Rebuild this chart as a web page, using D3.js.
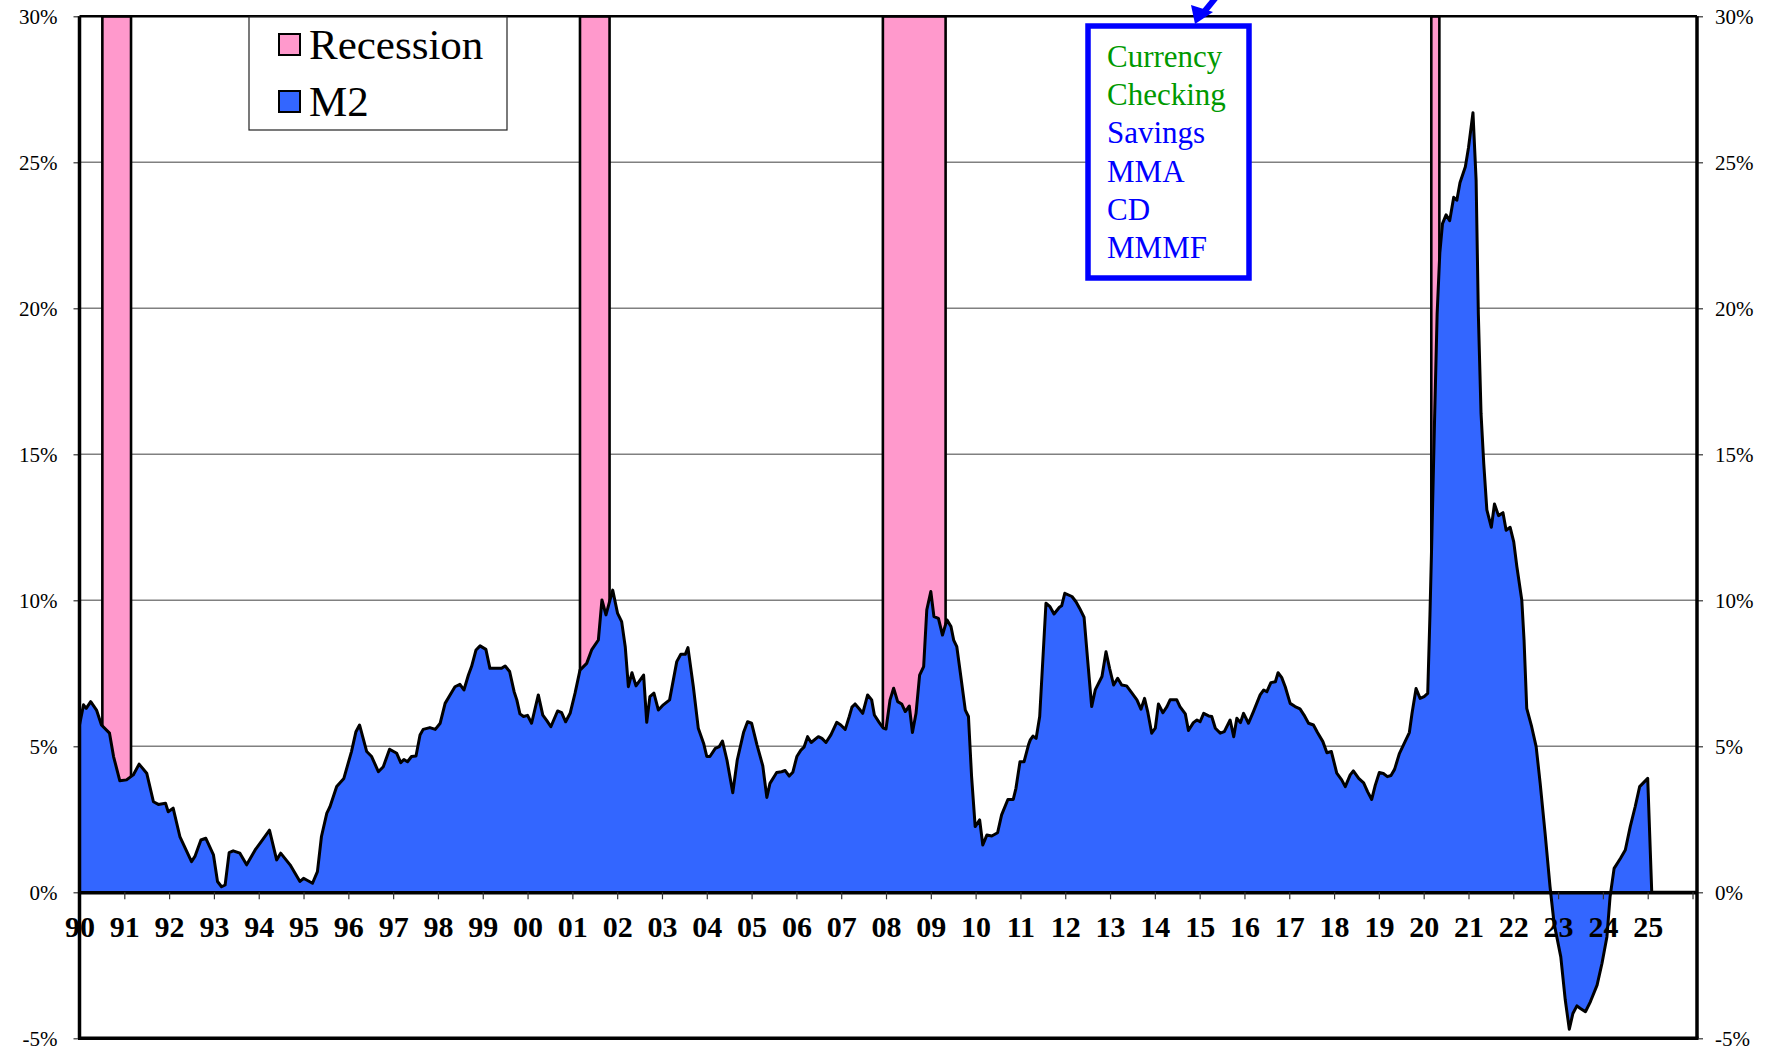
<!DOCTYPE html>
<html>
<head>
<meta charset="utf-8">
<script src="https://cdn.jsdelivr.net/npm/d3@7"></script>
<style>
  body { margin: 0; background: #fff; }
  #chart svg { display: block; }
  text { font-family: "Liberation Serif", "Times New Roman", serif; }
</style>
</head>
<body>
<div id="chart"></div>
<script>
// data (pertumbuhan M2 yoy, %)
const years = [
  1990.00,1990.09,1990.15,1990.25,1990.38,1990.49,1990.67,1990.76,1990.90,1991.05,
  1991.20,1991.33,1991.50,1991.65,1991.76,1991.92,1991.98,1992.09,1992.24,1992.50,
  1992.58,1992.71,1992.82,1992.99,1993.08,1993.17,1993.25,1993.34,1993.43,1993.58,
  1993.73,1993.92,1994.08,1994.24,1994.40,1994.49,1994.70,1994.92,1995.00,1995.20,
  1995.31,1995.40,1995.52,1995.59,1995.74,1995.90,1996.07,1996.17,1996.25,1996.41,
  1996.52,1996.67,1996.78,1996.92,
  1997.08,1997.17,1997.24,1997.32,1997.41,1997.51,1997.60,1997.67,1997.82,1997.94,
  1998.05,1998.16,1998.27,1998.38,1998.49,1998.58,1998.68,1998.75,1998.85,1998.94,
  1999.07,1999.16,1999.31,1999.42,1999.50,1999.60,1999.70,1999.76,1999.83,1999.91,
  2000.00,2000.09,2000.24,2000.34,2000.43,2000.52,2000.67,2000.76,2000.85,2000.95,
  2001.06,2001.17,2001.32,2001.43,2001.58,2001.66,2001.75,2001.90,2002.01,2002.10,
  2002.18,2002.25,2002.33,2002.42,2002.59,2002.66,2002.73,2002.82,2002.92,2003.03,
  2003.17,2003.33,2003.42,2003.52,2003.58,2003.70,2003.81,2003.93,2004.00,
  2004.07,2004.19,2004.28,2004.35,2004.45,2004.58,2004.68,2004.82,2004.91,2005.00,
  2005.12,2005.25,2005.34,2005.41,2005.56,2005.67,2005.75,2005.84,2005.92,2006.01,
  2006.10,2006.17,2006.25,2006.33,2006.49,2006.57,2006.66,2006.77,2006.90,2006.99,
  2007.09,2007.18,2007.24,2007.31,2007.41,2007.48,2007.59,2007.68,2007.74,2007.85,
  2007.94,2008.00,2008.09,2008.17,2008.26,2008.35,2008.43,2008.52,2008.59,2008.67,
  2008.75,2008.84,2008.91,2009.00,2009.07,2009.17,2009.26,2009.36,2009.45,2009.51,
  2009.58,2009.67,2009.77,2009.84,2009.91,2009.99,2010.09,2010.16,2010.25,2010.36,
  2010.49,2010.58,2010.72,2010.84,2010.90,2010.99,2011.08,2011.18,2011.22,
  2011.28,2011.35,2011.43,2011.57,2011.66,2011.75,2011.87,2011.92,2011.99,2012.15,
  2012.24,2012.32,2012.42,2012.50,2012.59,2012.67,2012.82,2012.91,2012.99,2013.08,
  2013.17,2013.26,2013.37,2013.49,2013.60,2013.69,2013.77,2013.84,2013.93,2014.01,
  2014.08,2014.18,2014.27,2014.34,2014.49,2014.56,2014.68,2014.75,2014.86,2014.94,
  2015.01,2015.09,2015.20,2015.27,2015.35,2015.46,2015.55,2015.68,2015.76,2015.83,
  2015.91,2015.98,2016.09,2016.20,2016.35,2016.43,2016.50,2016.59,2016.69,2016.75,
  2016.83,2016.91,2017.02,2017.13,2017.24,2017.33,2017.43,2017.54,2017.63,2017.75,
  2017.84,2017.94,2018.06,2018.17,2018.25,
  2018.36,2018.43,2018.55,2018.66,2018.75,2018.84,2018.92,2019.01,2019.10,2019.19,
  2019.27,2019.35,2019.46,2019.56,2019.68,2019.74,2019.83,2019.92,2020.01,2020.09,
  2020.14,2020.18,2020.24,2020.30,2020.36,2020.42,2020.50,2020.58,2020.67,2020.74,
  2020.81,2020.93,2021.00,2021.10,2021.17,2021.22,2021.28,2021.34,2021.41,2021.51,
  2021.58,2021.67,2021.77,2021.84,2021.93,2022.01,2022.08,2022.19,2022.24,2022.30,
  2022.41,2022.51,2022.60,2022.71,2022.82,2022.91,2023.06,2023.16,2023.25,2023.33,
  2023.42,2023.49,2023.61,2023.72,2023.87,2023.98,2024.09,2024.16,2024.25,2024.39,
  2024.50,2024.61,2024.72,2024.82,2025.00,2025.09,2026.10
];

const m2Growth = [
  5.73,6.42,6.30,6.53,6.24,5.73,5.45,4.65,3.82,3.85,
  4.02,4.39,4.08,3.10,3.01,3.05,2.76,2.88,1.91,1.05,
  1.24,1.79,1.85,1.28,0.37,0.19,0.25,1.36,1.42,1.34,
  0.94,1.45,1.79,2.13,1.11,1.34,0.94,0.37,0.48,0.31,
  0.71,1.91,2.71,2.93,3.62,3.90,4.82,5.50,5.73,4.82,
  4.65,4.13,4.30,4.90,
  4.76,4.44,4.55,4.47,4.65,4.67,5.39,5.58,5.64,5.58,
  5.79,6.47,6.76,7.04,7.12,6.93,7.44,7.73,8.30,8.44,
  8.32,7.67,7.67,7.67,7.75,7.56,6.87,6.59,6.11,6.02,
  6.06,5.79,6.76,6.07,5.88,5.67,6.21,6.15,5.84,6.13,
  6.82,7.61,7.84,8.30,8.64,10.01,9.50,10.35,9.55,9.27,
  8.41,7.04,7.52,7.07,7.44,5.82,6.70,6.82,6.24,6.42,
  6.59,7.90,8.15,8.15,8.38,7.04,5.62,5.10,4.65,
  4.65,4.93,4.99,5.18,4.53,3.41,4.53,5.47,5.84,5.79,
  5.05,4.33,3.25,3.73,4.10,4.13,4.17,3.98,4.11,4.65,
  4.87,4.97,5.33,5.13,5.33,5.27,5.13,5.39,5.82,5.73,
  5.58,6.02,6.34,6.45,6.27,6.13,6.76,6.59,6.07,5.81,
  5.62,5.59,6.59,6.99,6.53,6.45,6.19,6.38,5.47,6.13,
  7.44,7.73,9.67,10.30,9.44,9.38,8.81,9.33,9.10,8.64,
  8.41,7.39,6.24,6.02,3.96,2.25,2.48,1.62,1.96,1.93,
  2.04,2.65,3.18,3.18,3.56,4.47,4.47,5.05,5.22,
  5.35,5.27,6.02,9.90,9.78,9.53,9.76,9.81,10.24,10.13,
  9.95,9.73,9.42,7.96,6.36,6.93,7.39,8.24,7.67,7.10,
  7.33,7.10,7.07,6.82,6.59,6.27,6.64,6.19,5.45,5.62,
  6.45,6.15,6.36,6.59,6.59,6.36,6.11,5.54,5.81,5.90,
  5.84,6.13,6.04,6.02,5.62,5.45,5.50,5.90,5.33,5.96,
  5.81,6.13,5.79,6.19,6.76,6.93,6.87,7.18,7.21,7.52,
  7.36,7.04,6.47,6.36,6.28,6.07,5.79,5.73,5.47,5.16,
  4.78,4.82,4.08,3.85,3.62,
  4.02,4.16,3.90,3.75,3.44,3.18,3.67,4.10,4.07,3.96,
  4.00,4.21,4.76,5.08,5.47,6.13,6.98,6.64,6.70,6.81,
  9.50,12.0,16.0,19.8,21.9,22.9,23.2,23.0,23.8,23.7,
  24.3,24.85,25.5,26.7,24.4,19.8,16.4,14.7,13.1,12.5,
  13.3,12.9,13.0,12.4,12.5,12.0,11.15,10.0,8.64,6.30,
  5.67,4.99,3.73,2.02,0.19,-1.06,-2.21,-3.69,-4.69,-4.15,
  -3.89,-3.97,-4.09,-3.75,-3.18,-2.43,-1.52,-0.15,0.82,1.16,
  1.45,2.25,2.93,3.62,3.90,0,0
];

// periode resesi (tahun desimal)
const recessionStart = [1990.51, 2001.17, 2007.93, 2020.17];
const recessionEnd   = [1991.15, 2001.83, 2009.33, 2020.35];

// tick
const yTicks    = [-5, 0, 5, 10, 15, 20, 25, 30];
const yearTicks = d3.range(1990, 2027);

// legend dan kotak keterangan
const legendLabels = ["Recession", "M2"];
const legendColors = ["#FF99CC", "#3366FF"];
const boxLabels = ["Currency", "Checking", "Savings", "MMA", "CD", "MMMF"];
const boxColors = ["#009900", "#009900", "#0000FF", "#0000FF", "#0000FF", "#0000FF"];

const W = 1768, H = 1050;
const plot = { left: 79.5, right: 1697, top: 16.3, bottom: 1038.3 };

const svg = d3.select("#chart").append("svg")
  .attr("width", W).attr("height", H);

const x = d3.scaleLinear().domain([1990, 2026.1]).range([plot.left, plot.right]);
const y = d3.scaleLinear().domain([-5, 30]).range([plot.bottom, plot.top]);

const data = years.map((t, i) => ({ t, v: m2Growth[i] }));

// grid horizontal
svg.append("g")
  .selectAll("line")
  .data(yTicks.filter(d => d > 0 && d < 30))
  .enter().append("line")
  .attr("x1", plot.left).attr("x2", plot.right)
  .attr("y1", d => y(d)).attr("y2", d => y(d))
  .attr("stroke", "#808080").attr("stroke-width", 1.5);

// batang resesi
svg.append("g")
  .selectAll("rect")
  .data(recessionStart.map((s, i) => ({ s, e: recessionEnd[i] })))
  .enter().append("rect")
  .attr("x", d => x(d.s))
  .attr("width", d => x(d.e) - x(d.s))
  .attr("y", y(30))
  .attr("height", y(0) - y(30))
  .attr("fill", "#FF99CC")
  .attr("stroke", "#000").attr("stroke-width", 2.6);

// area M2
const area = d3.area()
  .x(d => x(d.t))
  .y0(y(0))
  .y1(d => y(d.v));

const line = d3.line()
  .x(d => x(d.t))
  .y(d => y(d.v));

svg.append("path")
  .datum(data)
  .attr("d", area)
  .attr("fill", "#3366FF");

svg.append("path")
  .datum(data)
  .attr("d", line)
  .attr("fill", "none")
  .attr("stroke", "#000")
  .attr("stroke-width", 3)
  .attr("stroke-linejoin", "round");

// sumbu x di 0%
const xAxis = svg.append("g")
  .attr("transform", `translate(0,${y(0)})`)
  .call(d3.axisBottom(x)
    .tickValues(yearTicks)
    .tickSize(7)
    .tickSizeOuter(0)
    .tickPadding(16)
    .tickFormat(d => d < 2026 ? String(d).slice(2) : ""));
xAxis.select(".domain").attr("stroke", "#000").attr("stroke-width", 3.5);
xAxis.selectAll(".tick line").attr("stroke", "#333").attr("stroke-width", 1.2);
xAxis.selectAll("text")
  .attr("font-size", "30px")
  .attr("font-weight", "bold")
  .attr("fill", "#000");

// sumbu y kiri
const yLeft = svg.append("g")
  .attr("transform", `translate(${plot.left},0)`)
  .call(d3.axisLeft(y)
    .tickValues(yTicks)
    .tickSize(6)
    .tickSizeOuter(0)
    .tickPadding(16)
    .tickFormat(d => d + "%"));
yLeft.select(".domain").remove();
yLeft.selectAll(".tick line").attr("stroke", "#333").attr("stroke-width", 1.2);
yLeft.selectAll("text").attr("font-size", "21px").attr("fill", "#000");

// sumbu y kanan
const yRight = svg.append("g")
  .attr("transform", `translate(${plot.right},0)`)
  .call(d3.axisRight(y)
    .tickValues(yTicks)
    .tickSize(6)
    .tickSizeOuter(0)
    .tickPadding(12)
    .tickFormat(d => d + "%"));
yRight.select(".domain").remove();
yRight.selectAll(".tick line").attr("stroke", "#333").attr("stroke-width", 1.2);
yRight.selectAll("text").attr("font-size", "21px").attr("fill", "#000");

// bingkai
const frame = svg.append("g").attr("stroke", "#000").attr("fill", "none");
frame.append("line").attr("x1", plot.left).attr("x2", plot.right)
  .attr("y1", plot.top).attr("y2", plot.top).attr("stroke-width", 2.5);
frame.append("line").attr("x1", plot.left - 1.5).attr("x2", plot.right + 1.5)
  .attr("y1", plot.bottom).attr("y2", plot.bottom).attr("stroke-width", 3.5);
frame.append("line").attr("x1", plot.left).attr("x2", plot.left)
  .attr("y1", plot.top).attr("y2", plot.bottom).attr("stroke-width", 3.5);
frame.append("line").attr("x1", plot.right).attr("x2", plot.right)
  .attr("y1", plot.top).attr("y2", plot.bottom).attr("stroke-width", 3.5);

// legend
const legend = svg.append("g").attr("transform", "translate(249,17)");
legend.append("rect")
  .attr("width", 258).attr("height", 113)
  .attr("fill", "#fff").attr("stroke", "#222").attr("stroke-width", 1.2);
legendLabels.forEach((lab, i) => {
  const g = legend.append("g").attr("transform", `translate(30,${17 + i * 57})`);
  g.append("rect")
    .attr("width", 21).attr("height", 21)
    .attr("fill", legendColors[i])
    .attr("stroke", "#000").attr("stroke-width", 2);
  g.append("text")
    .attr("x", 30).attr("y", 25)
    .attr("font-size", "43px")
    .attr("fill", "#000")
    .text(lab);
});

// kotak keterangan komponen M2
const box = svg.append("g").attr("transform", "translate(1088,26)");
box.append("rect")
  .attr("width", 161).attr("height", 252)
  .attr("fill", "#fff").attr("stroke", "#0000FF").attr("stroke-width", 5.5);
boxLabels.forEach((lab, i) => {
  box.append("text")
    .attr("x", 19).attr("y", 41 + i * 38.2)
    .attr("font-size", "31px")
    .attr("fill", boxColors[i])
    .text(lab);
});

// panah di atas kotak
svg.append("line")
  .attr("x1", 1222).attr("y1", -10)
  .attr("x2", 1204).attr("y2", 12)
  .attr("stroke", "#0000FF").attr("stroke-width", 6);
svg.append("path")
  .attr("d", "M1195,24 L1191,5 L1213,12 Z")
  .attr("fill", "#0000FF");
</script>
</body>
</html>
